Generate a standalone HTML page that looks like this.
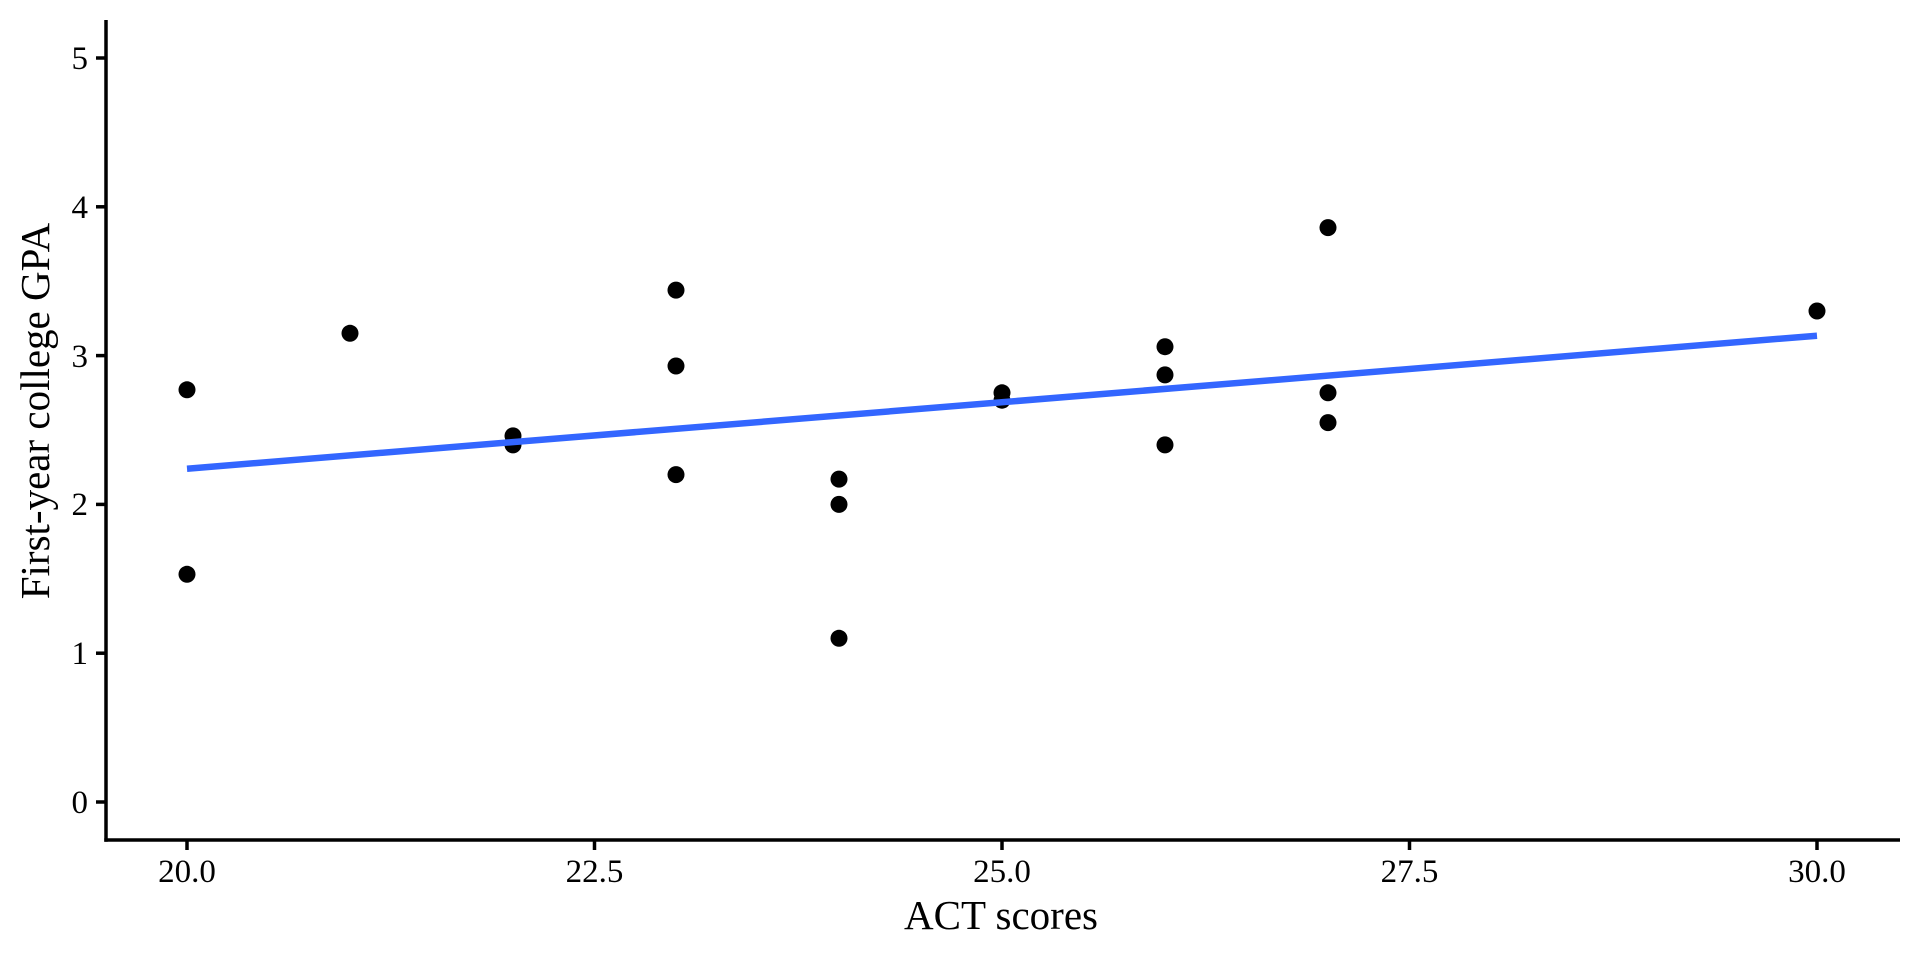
<!DOCTYPE html>
<html><head><meta charset="utf-8"><style>html,body{margin:0;padding:0;background:#fff}</style></head><body>
<svg width="1920" height="960" xmlns="http://www.w3.org/2000/svg" font-family="Liberation Serif, serif">
<rect width="1920" height="960" fill="#fff"/>
<g stroke="#000" stroke-width="3.5" fill="none">
<line x1="106" y1="20" x2="106" y2="841.7"/>
<line x1="104.3" y1="840" x2="1900" y2="840"/>
<line x1="96" y1="802" x2="106" y2="802"/>
<line x1="96" y1="653.2" x2="106" y2="653.2"/>
<line x1="96" y1="504.4" x2="106" y2="504.4"/>
<line x1="96" y1="355.6" x2="106" y2="355.6"/>
<line x1="96" y1="206.8" x2="106" y2="206.8"/>
<line x1="96" y1="58" x2="106" y2="58"/>
<line x1="187" y1="840" x2="187" y2="850"/>
<line x1="594.5" y1="840" x2="594.5" y2="850"/>
<line x1="1002" y1="840" x2="1002" y2="850"/>
<line x1="1409.5" y1="840" x2="1409.5" y2="850"/>
<line x1="1817" y1="840" x2="1817" y2="850"/>
</g>
<g font-size="33" fill="#000" text-anchor="end">
<text x="88" y="813">0</text><text x="88" y="664">1</text><text x="88" y="515">2</text>
<text x="88" y="367">3</text><text x="88" y="218">4</text><text x="88" y="69">5</text>
</g>
<g font-size="33" fill="#000" text-anchor="middle">
<text x="187" y="882">20.0</text><text x="594.5" y="882">22.5</text><text x="1002" y="882">25.0</text>
<text x="1409.5" y="882">27.5</text><text x="1817" y="882">30.0</text>
</g>
<text x="1001" y="929" font-size="41" text-anchor="middle">ACT scores</text>
<text transform="translate(49,411) rotate(-90)" font-size="41" text-anchor="middle">First-year college GPA</text>
<g fill="#000">
<circle cx="187" cy="389.8" r="8.5"/><circle cx="187" cy="574.3" r="8.5"/>
<circle cx="350" cy="333.3" r="8.5"/>
<circle cx="513" cy="435.9" r="8.5"/><circle cx="513" cy="444.9" r="8.5"/>
<circle cx="676" cy="290.1" r="8.5"/><circle cx="676" cy="366" r="8.5"/><circle cx="676" cy="474.6" r="8.5"/>
<circle cx="839" cy="479.1" r="8.5"/><circle cx="839" cy="504.4" r="8.5"/><circle cx="839" cy="638.3" r="8.5"/>
<circle cx="1002" cy="392.8" r="8.5"/><circle cx="1002" cy="400.2" r="8.5"/>
<circle cx="1165" cy="346.7" r="8.5"/><circle cx="1165" cy="374.9" r="8.5"/><circle cx="1165" cy="444.9" r="8.5"/>
<circle cx="1328" cy="227.6" r="8.5"/><circle cx="1328" cy="392.8" r="8.5"/><circle cx="1328" cy="422.6" r="8.5"/>
<circle cx="1817" cy="311" r="8.5"/>
</g>
<line x1="187" y1="468.7" x2="1817" y2="335.7" stroke="#3366ff" stroke-width="6.5"/>
</svg>
</body></html>
